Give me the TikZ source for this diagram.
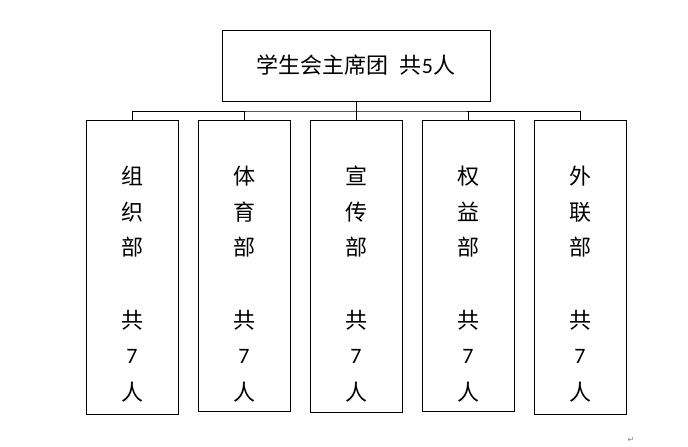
\documentclass[tikz,border=0pt]{standalone}
\usepackage{fontspec}
\setmainfont{Carlito}
\newfontfamily\cjk{Noto Sans CJK SC}
\newfontfamily\djv{DejaVu Sans}
\begin{document}
\begin{tikzpicture}[x=1pt,y=-1pt,
  box/.style={draw,line width=0.8pt},
  ch/.style={font=\fontsize{22}{24}\selectfont,inner sep=0pt},
  conn/.style={line width=0.8pt}]
\useasboundingbox (0,0) rectangle (688,447);
\node[box,minimum width=268pt,minimum height=71pt,font=\fontsize{22}{24}\selectfont] (top) at (356,65.5) {{\cjk 学生会主席团}\hspace{0.5em}{\cjk 共}5{\cjk 人}};
\coordinate (hub) at (356,111);
\foreach \i/\x/\h/\a/\b/\c in {1/132/294/组/织/部, 2/244/291/体/育/部, 3/356/292/宣/传/部, 4/468/291/权/益/部, 5/580/294/外/联/部}{
  \node[box,minimum width=92pt,minimum height=\h pt,anchor=north] (d\i) at (\x,120) {};
  \node[ch] (a\i) at (\x,176) {\cjk \a};
  \node[ch] (b\i) at (\x,212) {\cjk \b};
  \node[ch] (c\i) at (\x,247) {\cjk \c};
  \node[ch] (g\i) at (\x,320) {\cjk 共};
  \node[ch] (n\i) at (\x,356) {7};
  \node[ch] (r\i) at (\x,392) {\cjk 人};
}
\draw[conn] (top.south) -- (hub);
\draw[conn] (d1.north) |- (hub) -| (d5.north);
\foreach \i in {2,3,4}{\draw[conn] (d\i.north) -- (d\i.north |- hub);}
\node[font=\djv\fontsize{8}{8}\selectfont,text=gray,inner sep=0pt] (ret) at (631,440) {↵};
\end{tikzpicture}
\end{document}
